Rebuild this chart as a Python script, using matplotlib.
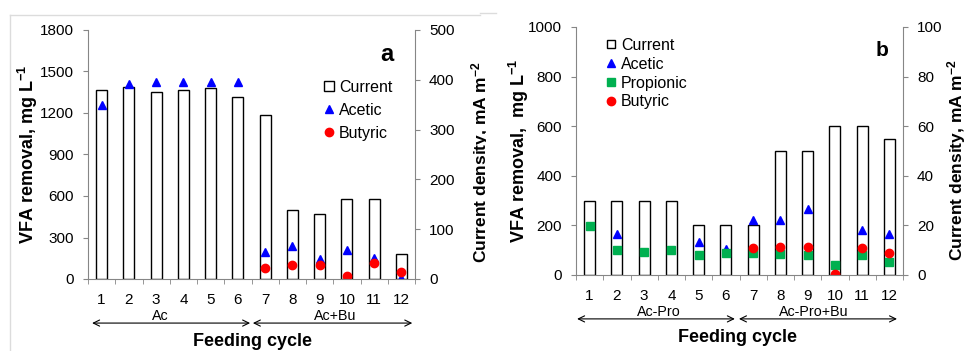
import matplotlib
matplotlib.use('Agg')
import matplotlib.pyplot as plt
from matplotlib.lines import Line2D
from matplotlib.patches import Rectangle
import numpy as np

plt.rcParams['font.family'] = ['Liberation Sans', 'DejaVu Sans']
plt.rcParams['mathtext.default'] = 'regular'

nan = np.nan
cycles = list(range(1, 13))

# panel a: Ac then Ac+Bu
a_current = [380, 385, 375, 380, 383, 365, 330, 139, 130, 160, 160, 50]      # mA m-2
a_acetic = [1255, 1410, 1425, 1425, 1425, 1425, 195, 236, 144, 207, 152, 5]  # mg L-1
a_butyric = [nan, nan, nan, nan, nan, nan, 79, 103, 99, 19, 113, 53]

# panel b: Ac-Pro then Ac-Pro+Bu
b_current = [30, 30, 30, 30, 20, 20, 20, 50, 50, 60, 60, 55]
b_acetic = [nan, 164, nan, nan, 134, 105, 222, 222, 267, nan, 180, 164]
b_propionic = [196, 99, 92, 102, 82, 88, 88, 86, 79, 39, 82, 54]
b_butyric = [nan, nan, nan, nan, nan, nan, 107, 113, 113, 5, 107, 88]

GRAY = '#868686'
BLUE = '#0000ff'
RED = '#ff0000'
GREEN = '#00b050'
W, H = 968, 351

fig = plt.figure(figsize=(9.68, 3.51), dpi=100)


def make_panel(x0, x1, ytop, ybot, z):
    ax = fig.add_axes([x0 / W, 1 - ybot / H, (x1 - x0) / W, (ybot - ytop) / H])
    ax2 = ax.twinx()
    ax2.set_zorder(z)
    ax.set_zorder(z + 1)
    ax.patch.set_visible(False)
    for a in (ax, ax2):
        a.spines['top'].set_visible(False)
        for s in ('left', 'right', 'bottom'):
            a.spines[s].set_color(GRAY)
    ax.spines['right'].set_visible(False)
    ax2.spines['left'].set_visible(False)
    ax2.spines['bottom'].set_visible(False)
    ax.set_xlim(0.5, 12.5)
    ax.set_xticks(cycles)
    ax.set_xticks(np.arange(0.5, 13, 1), minor=True)
    ax.tick_params(axis='x', which='major', length=0, pad=10, labelsize=11)
    ax.tick_params(axis='x', which='minor', length=3.6, color=GRAY, direction='out')
    ax.tick_params(axis='y', length=3.6, color=GRAY, pad=6.5, labelsize=11)
    ax2.tick_params(axis='y', length=3.6, color=GRAY, pad=6.5, labelsize=11)
    return ax, ax2


def group_arrow(ax, xa, xb, xt, label):
    tr = ax.get_xaxis_transform()
    ax.annotate('', xy=(xb, -0.177), xytext=(xa, -0.177), xycoords=tr, textcoords=tr,
                arrowprops=dict(arrowstyle='<->,head_length=0.45,head_width=0.22',
                                color='black', lw=0.8, shrinkA=0, shrinkB=0),
                annotation_clip=False)
    ax.text(xt, -0.149, label, transform=tr, ha='center', va='center', fontsize=10.3)


# ---- panel a ----
axa, axa2 = make_panel(88, 415, 30, 279, 0)
axa2.bar(cycles, a_current, width=0.4, facecolor='white', edgecolor='black', linewidth=1)
axa.plot(cycles, a_acetic, ls='none', marker='^', ms=6, color=BLUE)
axa.plot(cycles, a_butyric, ls='none', marker='o', ms=6, color=RED)
axa.set_ylim(0, 1800)
axa.set_yticks(range(0, 1801, 300))
axa2.set_ylim(0, 500)
axa2.set_yticks(range(0, 501, 100))
axa.set_ylabel('VFA removal, mg L$^{-1}$', fontsize=13, fontweight='bold')
axa.yaxis.set_label_coords(-0.147, 0.5)
axa2.set_ylabel('Current density, mA m$^{-2}$', fontsize=12.5, fontweight='bold')
axa2.yaxis.set_label_coords(1.165, 0.47)
axa.text(0.914, 0.9, 'a', transform=axa.transAxes, ha='center', va='center',
         fontsize=17, fontweight='bold')
group_arrow(axa, 0.65, 6.45, 3.15, 'Ac')
group_arrow(axa, 6.55, 12.4, 9.56, 'Ac+Bu')
hand_a = [Line2D([], [], ls='none', marker='s', ms=6.5, mfc='white', mec='black', mew=1),
          Line2D([], [], ls='none', marker='^', ms=6, color=BLUE),
          Line2D([], [], ls='none', marker='o', ms=6, color=RED)]
axa.legend(hand_a, ['Current', 'Acetic', 'Butyric'], loc='upper left',
           bbox_to_anchor=(0.719, 0.80), frameon=False, fontsize=11.5,
           handlelength=0.7, handletextpad=0.3, borderpad=0, borderaxespad=0,
           labelspacing=0.5)
fig.text(252 / W, 1 - 342 / H, 'Feeding cycle', ha='center', va='center',
         fontsize=13, fontweight='bold')

# white cover so the right panel clips panel a's right label
fig.patches.append(Rectangle((486 / W, 0), 1, 1, transform=fig.transFigure,
                             facecolor='white', edgecolor='none', zorder=1.5))
for xs, ys in [((10 / W, 10 / W), (1 - 15 / H, 0)),
               ((10 / W, 480 / W), (1 - 15 / H, 1 - 15 / H)),
               ((480 / W, 496 / W), (1 - 13 / H, 1 - 13 / H))]:
    fig.lines.append(Line2D(xs, ys, transform=fig.transFigure, color='#dcdcdc',
                            lw=1, zorder=1.6))

# ---- panel b ----
axb, axb2 = make_panel(576, 903, 27, 275, 2)
axb2.bar(cycles, b_current, width=0.4, facecolor='white', edgecolor='black', linewidth=1)
axb.plot(cycles, b_acetic, ls='none', marker='^', ms=6, color=BLUE)
axb.plot(cycles, b_propionic, ls='none', marker='s', ms=5.5, color=GREEN)
axb.plot(cycles, b_butyric, ls='none', marker='o', ms=6, color=RED)
axb.set_ylim(0, 1000)
axb.set_yticks(range(0, 1001, 200))
axb2.set_ylim(0, 100)
axb2.set_yticks(range(0, 101, 20))
axb.set_ylabel('VFA removal,  mg L$^{-1}$', fontsize=13, fontweight='bold')
axb.yaxis.set_label_coords(-0.138, 0.5)
axb2.set_ylabel('Current density, mA m$^{-2}$', fontsize=12.5, fontweight='bold')
axb2.yaxis.set_label_coords(1.128, 0.464)
axb.text(0.936, 0.907, 'b', transform=axb.transAxes, ha='center', va='center',
         fontsize=15, fontweight='bold')
group_arrow(axb, 0.54, 6.33, 3.55, 'Ac-Pro')
group_arrow(axb, 6.48, 12.28, 9.23, 'Ac-Pro+Bu')
hand_b = [Line2D([], [], ls='none', marker='s', ms=6, mfc='white', mec='black', mew=1),
          Line2D([], [], ls='none', marker='^', ms=6, color=BLUE),
          Line2D([], [], ls='none', marker='s', ms=5.5, color=GREEN),
          Line2D([], [], ls='none', marker='o', ms=6, color=RED)]
axb.legend(hand_b, ['Current', 'Acetic', 'Propionic', 'Butyric'], loc='upper left',
           bbox_to_anchor=(0.089, 0.956), frameon=False, fontsize=11.5,
           handlelength=0.7, handletextpad=0.3, borderpad=0, borderaxespad=0,
           labelspacing=0.24)
fig.text(737 / W, 1 - 338 / H, 'Feeding cycle', ha='center', va='center',
         fontsize=13, fontweight='bold', zorder=5)

fig.savefig('out.png', dpi=100)
